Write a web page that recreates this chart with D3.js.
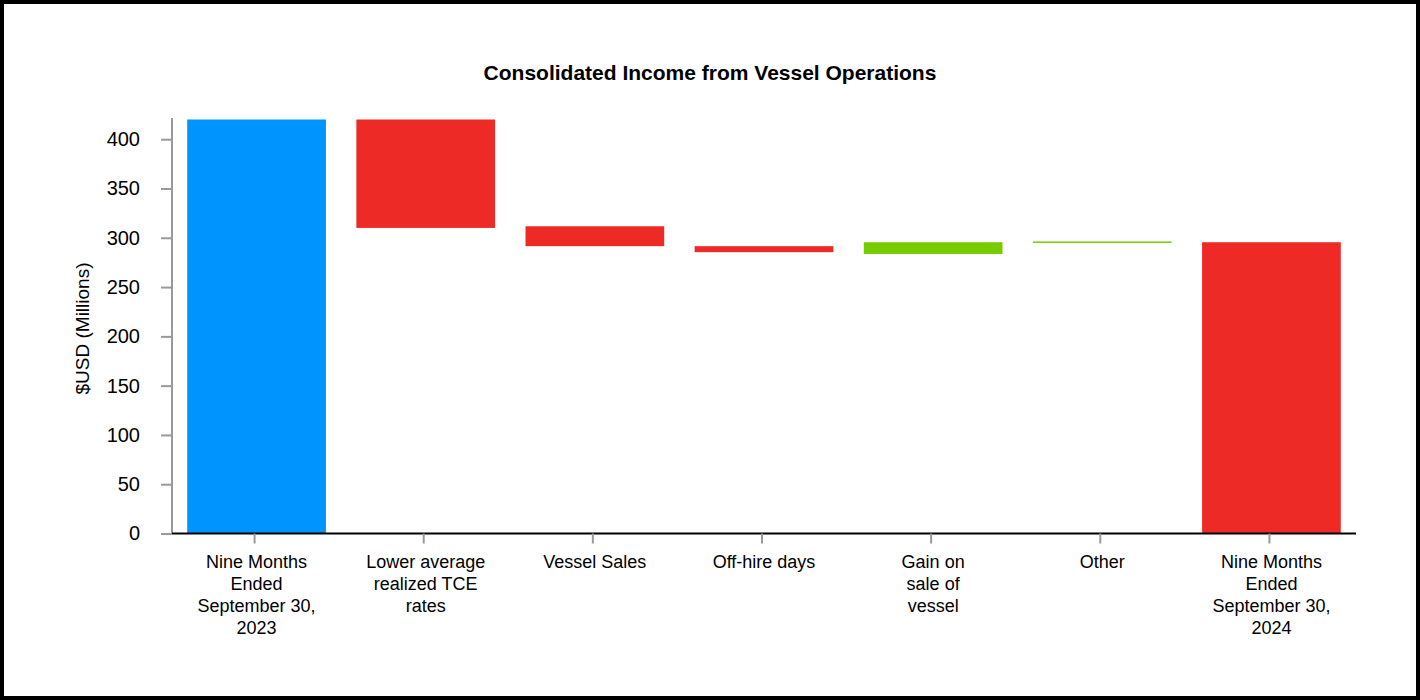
<!DOCTYPE html>
<html>
<head>
<meta charset="utf-8">
<script src="https://cdn.jsdelivr.net/npm/d3@7"></script>
<style>
  html, body { margin: 0; padding: 0; background: #fff; }
  svg { display: block; font-family: "Liberation Sans", Arial, sans-serif; }
</style>
</head>
<body>
<svg id="chart" width="1420" height="700"></svg>
<script>
const title = "Consolidated Income from Vessel Operations";
const yAxisTitle = "$USD (Millions)";
const categories = [
  ["Nine Months", "Ended", "September 30,", "2023"],
  ["Lower average", "realized TCE", "rates"],
  ["Vessel Sales"],
  ["Off-hire days"],
  ["Gain on", "sale of", "vessel"],
  ["Other"],
  ["Nine Months", "Ended", "September 30,", "2024"]
];
const barStart = [0, 425, 311.7, 291.5, 283.6, 294.8, 0];
const barEnd   = [425, 310, 291.5, 285.4, 295.5, 296.3, 295.5];
const barKind  = ["total", "decrease", "decrease", "decrease", "increase", "increase", "totalEnd"];
const yTicks = [0, 50, 100, 150, 200, 250, 300, 350, 400];
const yDomain = [0, 420];

const colors = { total: "#0094ff", decrease: "#ee2a27", increase: "#77cc00", totalEnd: "#ee2a27" };

(function () {
const svg = d3.select("#chart");
const W = 1420, H = 700;
const pLeft = 172, pRight = 1356, pTop = 119.5, pBottom = 533.5;

svg.append("rect").attr("x", 2).attr("y", 2).attr("width", W - 4).attr("height", H - 4)
  .attr("fill", "#fff").attr("stroke", "#000").attr("stroke-width", 4);

svg.append("text").attr("x", 710).attr("y", 80).attr("text-anchor", "middle")
  .attr("font-size", 21).attr("font-weight", "bold").attr("fill", "#000").text(title);

const x = d3.scaleBand().domain(d3.range(categories.length)).range([pLeft, pRight])
  .paddingInner(0.18).paddingOuter(0.09);
const y = d3.scaleLinear().domain(yDomain).range([pBottom, pTop]);

svg.append("defs").append("clipPath").attr("id", "plotclip")
  .append("rect").attr("x", pLeft).attr("y", y(yDomain[1])).attr("width", pRight - pLeft)
  .attr("height", y(0) - y(yDomain[1]));

const data = categories.map((c, i) => ({ i, s: barStart[i], e: barEnd[i], k: barKind[i] }));

svg.append("g").attr("clip-path", "url(#plotclip)")
  .selectAll("rect").data(data).join("rect")
  .attr("x", d => x(d.i))
  .attr("width", x.bandwidth())
  .attr("y", d => y(Math.max(d.s, d.e)))
  .attr("height", d => Math.max(1.5, Math.abs(y(d.s) - y(d.e))))
  .attr("fill", d => colors[d.k]);

// Y axis
const yAxis = svg.append("g").attr("transform", `translate(${pLeft},0)`)
  .call(d3.axisLeft(y).tickValues(yTicks).tickSize(11).tickPadding(21));
yAxis.select(".domain").attr("stroke", "#999").attr("stroke-width", 2)
  .attr("d", `M0,${pTop - 1.5}V${pBottom}`);
yAxis.selectAll(".tick line").attr("stroke", "#999").attr("stroke-width", 2);
yAxis.selectAll(".tick text").attr("font-size", 20).attr("fill", "#000")
  .attr("font-family", "Liberation Sans, Arial, sans-serif");

// X axis
const xAxis = svg.append("g").attr("transform", `translate(0,${pBottom})`)
  .call(d3.axisBottom(x).tickSize(10).tickFormat(""));
xAxis.select(".domain").attr("stroke", "#000").attr("stroke-width", 2)
  .attr("d", `M${pLeft},0H${pRight}`);
xAxis.selectAll(".tick line").attr("stroke", "#999").attr("stroke-width", 2)
  .attr("transform", "translate(-2,0)");

const labels = svg.append("g");
categories.forEach((lines, i) => {
  const cx = x(i) + x.bandwidth() / 2;
  const t = labels.append("text")
    .attr("x", cx).attr("y", 568)
    .attr("text-anchor", "middle").attr("font-size", 18).attr("fill", "#000");
  lines.forEach((ln, j) => {
    t.append("tspan").attr("x", cx).attr("dy", j === 0 ? 0 : 22).text(ln);
  });
});

svg.append("text")
  .attr("transform", `translate(89,${(pTop + pBottom) / 2 + 2}) rotate(-90)`)
  .attr("text-anchor", "middle").attr("font-size", 19).attr("fill", "#000")
  .text(yAxisTitle);
})();
</script>
</body>
</html>
